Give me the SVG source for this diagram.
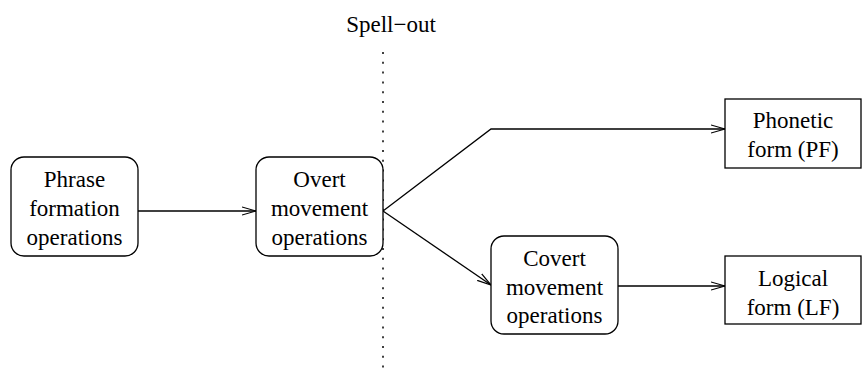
<svg xmlns="http://www.w3.org/2000/svg" width="862" height="377" viewBox="0 0 862 377">
<defs>
<style>
text{font-family:"Liberation Serif","Times New Roman",serif;font-size:23px;fill:#000;text-anchor:middle}
.box{fill:#fff;stroke:#000;stroke-width:1.3}
.edge{fill:none;stroke:#000;stroke-width:1.3}
</style>
<marker id="arr" markerWidth="16" markerHeight="10" refX="14" refY="5" orient="auto" markerUnits="userSpaceOnUse">
<path d="M0,1 L14,5 L0,9" fill="none" stroke="#000" stroke-width="1.2"/>
</marker>
</defs>
<rect width="862" height="377" fill="#fff"/>
<g id="spellout">
<line x1="383" y1="52" x2="383" y2="372" stroke="#000" stroke-width="1.5" stroke-dasharray="2 7.8"/>
<text x="391" y="32">Spell−out</text>
</g>
<g id="connectors">
<line class="edge" x1="138" y1="211" x2="256" y2="211" marker-end="url(#arr)"/>
<polyline class="edge" points="383,211 491,129 725,129" marker-end="url(#arr)"/>
<line class="edge" x1="383" y1="211" x2="491" y2="285" marker-end="url(#arr)"/>
<line class="edge" x1="618" y1="286" x2="725" y2="286" marker-end="url(#arr)"/>
</g>
<g id="phrase">
<rect class="box" x="11" y="157" width="127" height="99" rx="13"/>
<text x="74.5" y="187">Phrase</text>
<text x="74.5" y="216">formation</text>
<text x="74.5" y="245">operations</text>
</g>
<g id="overt">
<rect class="box" x="256" y="157" width="127" height="99" rx="13"/>
<text x="319.5" y="187">Overt</text>
<text x="319.5" y="216">movement</text>
<text x="319.5" y="245">operations</text>
</g>
<g id="covert">
<rect class="box" x="491" y="236" width="127" height="98" rx="13"/>
<text x="554.5" y="266">Covert</text>
<text x="554.5" y="295">movement</text>
<text x="554.5" y="323">operations</text>
</g>
<g id="pf">
<rect class="box" x="725" y="99" width="136" height="69"/>
<text x="793" y="128">Phonetic</text>
<text x="793" y="157">form (PF)</text>
</g>
<g id="lf">
<rect class="box" x="725" y="256" width="136" height="68"/>
<text x="793" y="286">Logical</text>
<text x="793" y="315">form (LF)</text>
</g>
</svg>
